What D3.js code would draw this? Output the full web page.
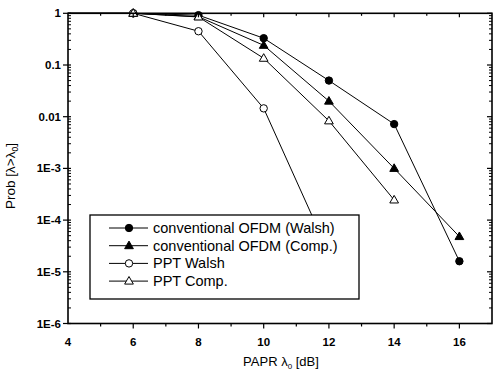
<!DOCTYPE html>
<html><head><meta charset="utf-8">
<script src="https://cdn.jsdelivr.net/npm/d3@7"></script>
<style>
html,body{margin:0;padding:0;background:#fff;}
text{font-family:"Liberation Sans",Arial,sans-serif;fill:#000;}
</style></head>
<body>
<svg id="c" width="495" height="375"></svg>
<script>
// Data
const xConv = [4, 6, 8, 10, 12, 14, 16];
const convWalsh = [1, 1, 0.92, 0.33, 0.05, 0.0072, 1.6e-5];
const convComp = [1, 1, 0.86, 0.24, 0.02, 0.001, 4.8e-5];
const xPptWalsh = [4, 6, 8, 10, 12];
const pptWalsh = [1, 1, 0.45, 0.0145, 2.3e-5];
const xPptComp = [4, 6, 8, 10, 12, 14];
const pptComp = [1, 1, 0.85, 0.135, 0.0083, 2.45e-4];
const seriesNames = ["conventional OFDM (Walsh)", "conventional OFDM (Comp.)", "PPT Walsh", "PPT Comp."];
const xTicks = [4, 6, 8, 10, 12, 14, 16];
const yTicks = [1, 0.1, 0.01, 1e-3, 1e-4, 1e-5, 1e-6];
const yTickLabels = ["1", "0.1", "0.01", "1E-3", "1E-4", "1E-5", "1E-6"];

const svg = d3.select("#c");
const L = 68, R = 492, T = 13.3, B = 323.5;
const x = d3.scaleLinear().domain([4, 17]).range([L, R]);
const y = d3.scaleLog().domain([1e-6, 1]).range([B, T]);

const series = [
  {name: seriesNames[0], xs: xConv, ys: convWalsh, shape: "circle", fill: "#000"},
  {name: seriesNames[1], xs: xConv, ys: convComp, shape: "tri", fill: "#000"},
  {name: seriesNames[2], xs: xPptWalsh, ys: pptWalsh, shape: "circle", fill: "#fff"},
  {name: seriesNames[3], xs: xPptComp, ys: pptComp, shape: "tri", fill: "#fff"}
];

const line = d3.line().x(d => x(d[0])).y(d => y(d[1]));
const triPath = (cx, cy, s) => `M${cx},${cy - s}L${cx + s * 0.95},${cy + s * 0.65}L${cx - s * 0.95},${cy + s * 0.65}Z`;

function marker(g, shape, cx, cy, fill) {
  if (shape === "circle") {
    g.append("circle").attr("cx", cx).attr("cy", cy).attr("r", 3.7)
      .attr("fill", fill).attr("stroke", "#000").attr("stroke-width", 1);
  } else {
    g.append("path").attr("d", triPath(cx, cy, 4.6))
      .attr("fill", fill).attr("stroke", "#000").attr("stroke-width", 1);
  }
}

svg.append("clipPath").attr("id", "pc").append("rect")
  .attr("x", L).attr("y", T - 6).attr("width", R - L).attr("height", B - T + 6);
const plot = svg.append("g").attr("clip-path", "url(#pc)");

series.forEach(s => {
  const pts = s.xs.map((v, i) => [v, s.ys[i]]);
  plot.append("path").attr("d", line(pts)).attr("fill", "none")
    .attr("stroke", "#000").attr("stroke-width", 1);
});
series.forEach(s => {
  s.xs.forEach((v, i) => {
    if (v === 4) return;
    marker(plot, s.shape, x(v), y(s.ys[i]), s.fill);
  });
});

// Frame
svg.append("rect").attr("x", L).attr("y", T).attr("width", R - L).attr("height", B - T)
  .attr("fill", "none").attr("stroke", "#000").attr("stroke-width", 1.6);

const axG = svg.append("g").attr("stroke", "#000").attr("stroke-width", 1.2);
xTicks.forEach(v => {
  if (v !== 4) {
    axG.append("line").attr("x1", x(v)).attr("x2", x(v)).attr("y1", B).attr("y2", B + 5);
    axG.append("line").attr("x1", x(v)).attr("x2", x(v)).attr("y1", T).attr("y2", T + 4);
  }
});
d3.range(5, 17, 2).forEach(v => {
  axG.append("line").attr("x1", x(v)).attr("x2", x(v)).attr("y1", B).attr("y2", B + 3);
  axG.append("line").attr("x1", x(v)).attr("x2", x(v)).attr("y1", T).attr("y2", T + 2.5);
});
yTicks.forEach(v => {
  axG.append("line").attr("x1", L - 5).attr("x2", L + 3).attr("y1", y(v)).attr("y2", y(v));
  axG.append("line").attr("x1", R).attr("x2", R - 5).attr("y1", y(v)).attr("y2", y(v));
});
for (let e = -6; e < 0; e++) {
  for (let m = 2; m <= 9; m++) {
    const v = m * Math.pow(10, e);
    axG.append("line").attr("x1", L).attr("x2", L + 3).attr("y1", y(v)).attr("y2", y(v)).attr("stroke-width", 1);
    axG.append("line").attr("x1", R).attr("x2", R - 3).attr("y1", y(v)).attr("y2", y(v)).attr("stroke-width", 1);
  }
}

// tick labels
svg.append("g").selectAll("text").data(xTicks).join("text")
  .attr("x", d => x(d)).attr("y", 346).attr("text-anchor", "middle")
  .attr("font-size", 11.5).attr("font-weight", "bold").text(d => d);
svg.append("g").selectAll("text").data(yTicks).join("text")
  .attr("x", 61).attr("y", d => y(d) + 4).attr("text-anchor", "end")
  .attr("font-size", 11.5).attr("font-weight", "bold").text((d, i) => yTickLabels[i]);

// axis labels
const xl = svg.append("text").attr("x", 281).attr("y", 366).attr("text-anchor", "middle")
  .attr("font-size", 13);
xl.append("tspan").text("PAPR λ");
xl.append("tspan").attr("font-size", 8).attr("dy", 3).text("0");
xl.append("tspan").attr("dy", -3).text(" [dB]");

const yl = svg.append("text").attr("transform", "translate(15,176) rotate(-90)")
  .attr("text-anchor", "middle").attr("font-size", 13.5);
yl.append("tspan").text("Prob [λ>λ");
yl.append("tspan").attr("font-size", 8.5).attr("dy", 3).text("0");
yl.append("tspan").attr("dy", -3).text("]");

// legend
const lg = svg.append("g");
lg.append("rect").attr("x", 90).attr("y", 215).attr("width", 269).attr("height", 84)
  .attr("fill", "#fff").attr("stroke", "#000").attr("stroke-width", 1.3);
series.forEach((s, i) => {
  const ry = 228 + i * 17.7;
  lg.append("line").attr("x1", 109).attr("x2", 148).attr("y1", ry).attr("y2", ry)
    .attr("stroke", "#000").attr("stroke-width", 1);
  marker(lg, s.shape, 129, ry, s.fill);
  lg.append("text").attr("x", 153).attr("y", ry + 5).attr("font-size", 14.5).text(s.name);
});
</script>
</body></html>
